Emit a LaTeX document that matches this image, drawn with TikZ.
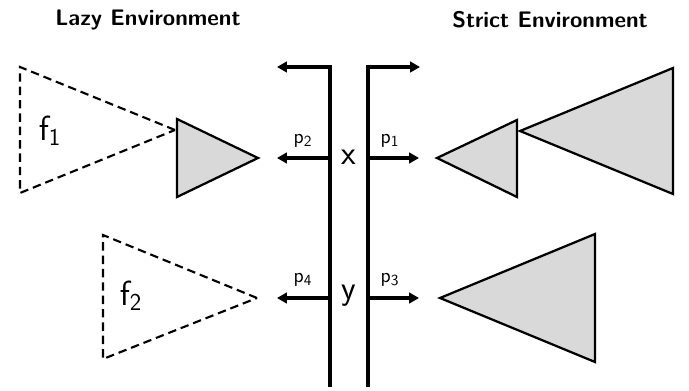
\documentclass[tikz,border=0pt]{standalone}
\usetikzlibrary{arrows.meta}
\begin{document}
\begin{tikzpicture}[x=0.25mm, y=-0.25mm]
    \tikzset{
      bar/.style={line width=2.6pt},
      port/.style={line width=2.6pt, -{Triangle[length=7pt, width=7.5pt]}},
      heap/.style={draw, line width=1.6pt, fill=gray!30, line join=miter},
      thunk/.style={draw, line width=1.5pt, dash pattern=on 6pt off 3.5pt},
      title/.style={font=\sffamily\bfseries\fontsize{16}{19}\selectfont},
      lbl/.style={font=\sffamily\fontsize{24}{28}\selectfont, inner sep=0pt},
      plbl/.style={font=\sffamily\fontsize{15}{18}\selectfont, inner sep=0pt}
    }
    \useasboundingbox (0,0) rectangle (689,391);
    % titles
    \node [title] (lazy) at (148,20) {Lazy Environment};
    \node [title] (strict) at (550,20) {Strict Environment};
    % the two walls
    \coordinate (ltop) at (330,67);
    \coordinate (lbot) at (330,387);
    \coordinate (lend) at (277,67);
    \coordinate (rtop) at (368,67);
    \coordinate (rbot) at (368,387);
    \coordinate (rend) at (420,67);
    \draw [bar, {Triangle[length=7pt, width=7.5pt]}-] (lend) -- (ltop) -- (lbot);
    \draw [bar, -{Triangle[length=7pt, width=7.5pt]}] (rbot) -- (rtop) -- (rend);
    % variables
    \node [lbl] (x) at (349,157) {x};
    \node [lbl] (y) at (349,296) {y};
    \coordinate (xl) at (330,158);
    \coordinate (xr) at (368,158);
    \coordinate (yl) at (330,298);
    \coordinate (yr) at (368,298);
    \coordinate (p2end) at (277,158);
    \coordinate (p1end) at (419,158);
    \coordinate (p4end) at (277,298);
    \coordinate (p3end) at (419,298);
    \draw [port] (xl) -- (p2end);
    \draw [port] (xr) -- (p1end);
    \draw [port] (yl) -- (p4end);
    \draw [port] (yr) -- (p3end);
    \node [plbl] (p2) at (303,141) {$\mathsf{p_2}$};
    \node [plbl] (p1) at (390,141) {$\mathsf{p_1}$};
    \node [plbl] (p4) at (303,280) {$\mathsf{p_4}$};
    \node [plbl] (p3) at (390,280) {$\mathsf{p_3}$};
    % lazy side
    \draw [thunk] (175,130) -- (20,67) -- (20,193) -- cycle;
    \node [lbl] (f1) at (50,131) {$\mathsf{f_1}$};
    \draw [heap] (258,158) -- (177,119) -- (177,197) -- cycle;
    \draw [thunk] (257,298) -- (103,235) -- (103,359) -- cycle;
    \node [lbl] (f2) at (131,296) {$\mathsf{f_2}$};
    % strict side
    \draw [heap] (520,131) -- (673,68) -- (673,194) -- cycle;
    \draw [heap] (437,158) -- (517,120) -- (517,197) -- cycle;
    \draw [heap] (440,298) -- (595,234) -- (595,362) -- cycle;
\end{tikzpicture}
\end{document}
